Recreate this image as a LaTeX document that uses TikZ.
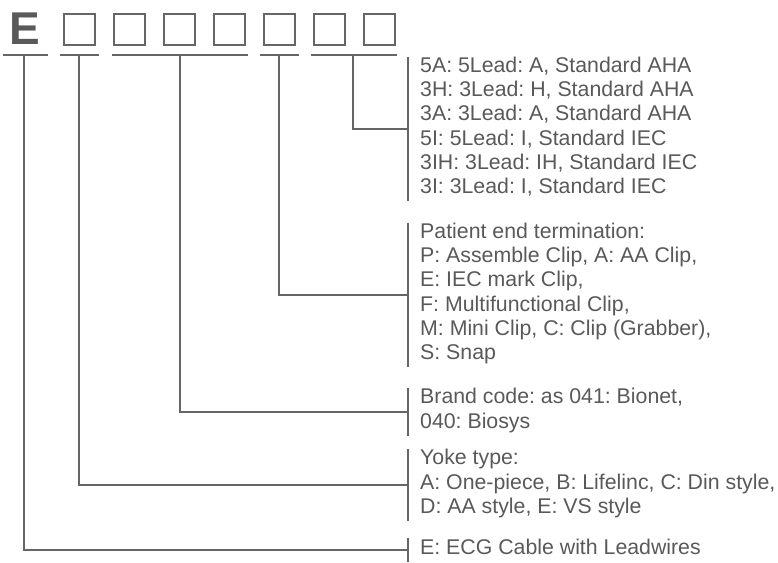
\documentclass[tikz,border=0pt]{standalone}
\usepackage{fontspec}
\setmainfont{Liberation Sans}
\usetikzlibrary{positioning}
\definecolor{linegray}{RGB}{102,102,102}
\definecolor{textgray}{RGB}{89,89,89}
\frenchspacing

\begin{document}
\begin{tikzpicture}[x=1pt, y=-1pt,
    digit/.style={draw=linegray, line width=2pt, minimum size=31pt, inner sep=0pt},
    leader/.style={draw=linegray, line width=2pt},
    note/.style={anchor=west, align=left, inner xsep=12pt, inner ysep=0pt, text=textgray,
        font=\fontsize{21.3}{24.3}\selectfont,
        execute at begin node=\strut, execute at end node=\strut}]
    \useasboundingbox (0,0) rectangle (778,562);

    % Code letter and boxes
    \node[anchor=base, inner sep=0pt, text=textgray, font=\fontsize{46}{46}\selectfont\bfseries] (code) at (25,44) {E};
    \foreach \i in {1,...,7}
        \node[digit] (s\i) at ({79.5+50*(\i-1)},29) {};

    % Underlines
    \draw[leader] (3,54.5) -- (48,54.5);
    \draw[leader] (60,54.5) -- (99,54.5);
    \draw[leader] (112,54.5) -- (248,54.5);
    \draw[leader] (260,54.5) -- (299,54.5);
    \draw[leader] (311,54.5) -- (397,54.5);
    \coordinate (t0) at (24,54.5);
    \coordinate (t1) at (79,54.5);
    \coordinate (t2) at (180,54.5);
    \coordinate (t3) at (279,54.5);
    \coordinate (t4) at (353,54.5);

    % Notes
    \node[note] (lead) at (408,129) {5A: 5Lead: A, Standard AHA\\3H: 3Lead: H, Standard AHA\\3A: 3Lead: A, Standard AHA\\5I: 5Lead: I, Standard IEC\\3IH: 3Lead: IH, Standard IEC\\3I: 3Lead: I, Standard IEC};
    \node[note] (clip) at (408,295) {Patient end termination:\\P: Assemble Clip, A: AA Clip,\\E: IEC mark Clip,\\F: Multifunctional Clip,\\M: Mini Clip, C: Clip (Grabber),\\S: Snap};
    \node[note] (brand) at (408,412) {Brand code: as 041: Bionet,\\040: Biosys};
    \node[note] (yoke) at (408,485) {Yoke type:\\A: One-piece, B: Lifelinc, C: Din style,\\D: AA style, E: VS style};
    \node[note] (cable) at (408,550) {E: ECG Cable with Leadwires};

    % Bars
    \foreach \n in {lead, clip, brand, yoke, cable}
        \draw[leader] (\n.north west) -- (\n.south west);

    % Leaders
    \draw[leader] (t4) |- (lead.west);
    \draw[leader] (t3) |- (clip.west);
    \draw[leader] (t2) |- (brand.west);
    \draw[leader] (t1) |- (yoke.west);
    \draw[leader] (t0) |- (cable.west);
\end{tikzpicture}
\end{document}
